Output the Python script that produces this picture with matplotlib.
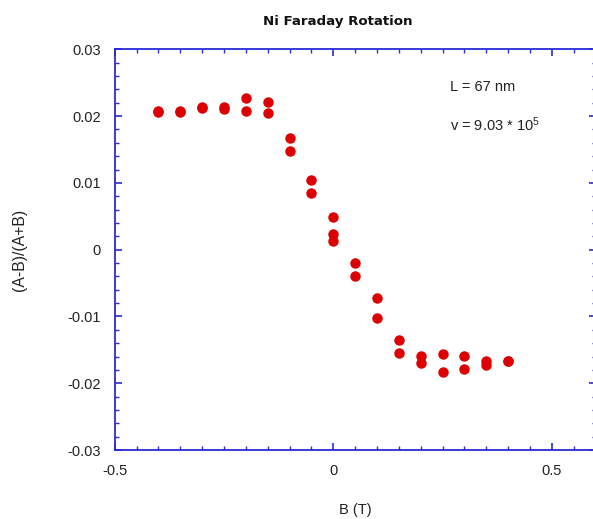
import matplotlib
matplotlib.use("Agg")
import matplotlib.pyplot as plt
from matplotlib.ticker import MultipleLocator, FixedFormatter, FixedLocator

B_field = [-0.4, -0.4, -0.35, -0.35, -0.3, -0.3, -0.25, -0.25, -0.2, -0.2,
           -0.15, -0.15, -0.1, -0.1, -0.05, -0.05, 0.0, 0.0, 0.0,
           0.05, 0.05, 0.1, 0.1, 0.15, 0.15, 0.2, 0.2, 0.25, 0.25,
           0.3, 0.3, 0.35, 0.35, 0.4, 0.4]
ratio = [0.0206, 0.0208, 0.0206, 0.0207, 0.0212, 0.0214, 0.0211, 0.0213, 0.0227, 0.0207,
         0.0221, 0.0205, 0.0167, 0.0147, 0.0105, 0.0085, 0.0049, 0.0023, 0.0013,
         -0.0020, -0.0039, -0.0073, -0.0103, -0.0135, -0.0155, -0.0159, -0.0169, -0.0156, -0.0183,
         -0.0159, -0.0179, -0.0166, -0.0172, -0.0166, -0.0167]

x_ticks = [-0.5, 0, 0.5]
x_tick_labels = ["-0.5", "0", "0.5"]
y_ticks = [-0.03, -0.02, -0.01, 0, 0.01, 0.02, 0.03]
y_tick_labels = ["-0.03", "-0.02", "-0.01", "0", "0.01", "0.02", "0.03"]

title = "Ni Faraday Rotation"
xlabel = "B (T)"
ylabel = "(A-B)/(A+B)"
note1 = "L = 67 nm"
note2 = r"v = 9.03 * 10$^5$"

font = "Liberation Sans"
plt.rcParams["mathtext.fontset"] = "custom"
plt.rcParams["mathtext.rm"] = font
plt.rcParams["mathtext.it"] = font

W, H = 593, 519
fig = plt.figure(figsize=(W / 100, H / 100), dpi=100)
left_px, right_px, top_px, bottom_px = 114.7, 595.6, 49.3, 450.0
ax_w = right_px - left_px
ax = fig.add_axes([left_px / W, 1 - bottom_px / H, ax_w / W, (bottom_px - top_px) / H])

axis_color = "#2a2ad8"
text_color = "#222222"

ax.plot(B_field, ratio, linestyle="none", marker="o", markersize=6.5,
        color="#dd0000", markeredgecolor="#dd0000")

ax.set_xlim(-0.5, 0.6)
ax.set_ylim(-0.03, 0.03)
ax.xaxis.set_major_locator(FixedLocator(x_ticks))
ax.xaxis.set_major_formatter(FixedFormatter(x_tick_labels))
ax.xaxis.set_minor_locator(MultipleLocator(0.05))
ax.yaxis.set_major_locator(FixedLocator(y_ticks))
ax.yaxis.set_major_formatter(FixedFormatter(y_tick_labels))
ax.yaxis.set_minor_locator(MultipleLocator(0.002))

for sp in ax.spines.values():
    sp.set_color(axis_color)
    sp.set_linewidth(1.3)

ax.tick_params(which="both", direction="in", top=True, right=True, color=axis_color,
               labelsize=10.5, pad=10)
ax.tick_params(which="major", length=5.3, width=1.2)
ax.tick_params(which="minor", length=2.6, width=1.0)
for lab in ax.get_xticklabels() + ax.get_yticklabels():
    lab.set_fontfamily(font)
    lab.set_color(text_color)

ax.set_xlabel(xlabel, fontsize=10.5, family=font, color=text_color, labelpad=18)
ax.set_ylabel(ylabel, fontsize=11.3, family=font, color=text_color)
ax.yaxis.set_label_coords((26.7 - left_px) / ax_w, 0.5)

fig.text(338 / W, 1 - 22 / H, title, ha="center", va="center", fontsize=9.6,
         fontweight="bold", family="DejaVu Sans", color="#111111")

fig.text(450 / W, 1 - 87 / H, note1, fontsize=10.5, family=font, color=text_color, va="center")
fig.text(450 / W, 1 - 125 / H, note2, fontsize=10.5, family=font, color=text_color, va="center")

fig.savefig("out.png", dpi=100)
